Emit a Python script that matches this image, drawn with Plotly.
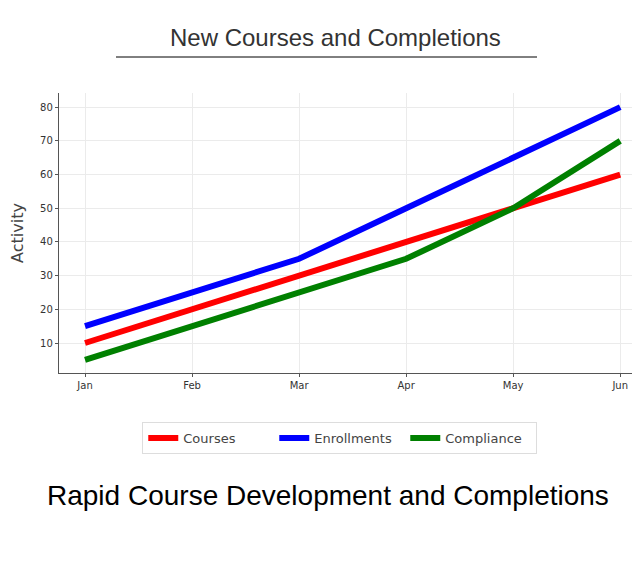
import plotly.graph_objects as go

months = ["Jan", "Feb", "Mar", "Apr", "May", "Jun"]
courses = [10, 20, 30, 40, 50, 60]
enrollments = [15, 25, 35, 50, 65, 80]
compliance = [5, 15, 25, 35, 50, 70]

series = [
    ("Courses", courses, "#ff0000"),
    ("Enrollments", enrollments, "#0000ff"),
    ("Compliance", compliance, "#008000"),
]

fig = go.Figure()
for name, vals, color in series:
    fig.add_trace(go.Scatter(x=months, y=vals, name=name, mode="lines",
                             line=dict(color=color, width=6)))

axis_style = dict(showline=True, linecolor="#555555", linewidth=1.3, showgrid=True,
                  gridcolor="#ebebeb", gridwidth=1, zeroline=False, ticks="outside",
                  ticklen=3, tickcolor="#555555",
                  tickfont=dict(family="DejaVu Sans", size=10, color="#333333"))

# page has an 8px body margin, so the figure is 8px smaller and sits at (8, 8)
fig.update_layout(
    width=632, height=562,
    paper_bgcolor="white", plot_bgcolor="white",
    margin=dict(l=51, r=8, t=85, b=197),
    xaxis=dict(axis_style, range=[-0.243, 5.11]),
    yaxis=dict(axis_style, range=[1.1, 84.2], tickvals=[10, 20, 30, 40, 50, 60, 70, 80],
               title=dict(text="Activity", standoff=12,
                          font=dict(family="DejaVu Sans", size=16, color="#444444"))),
    legend=dict(orientation="h", x=0.49, xanchor="center", y=-0.175, yanchor="top",
                bordercolor="#dddddd", borderwidth=1,
                entrywidth=86, entrywidthmode="pixels",
                font=dict(family="DejaVu Sans", size=13, color="#444444")),
    showlegend=True,
)

fig.add_annotation(text="New Courses and Completions", xref="paper", yref="paper",
                   x=(335 - 59) / 573, y=1 + (93 - 37) / 280, showarrow=False,
                   xanchor="center", yanchor="middle",
                   font=dict(family="Liberation Sans", size=24, color="#333333"))
fig.add_shape(type="line", xref="paper", yref="paper",
              x0=(116 - 59) / 573, x1=(537 - 59) / 573,
              y0=1 + (93 - 57) / 280, y1=1 + (93 - 57) / 280,
              line=dict(color="black", width=1))
fig.add_annotation(text="Rapid Course Development and Completions", xref="paper", yref="paper",
                   x=(328 - 59) / 573, y=-(495 - 373) / 280, showarrow=False,
                   xanchor="center", yanchor="middle",
                   font=dict(family="Liberation Sans", size=28, color="black"))

fig.write_html("out.html")
